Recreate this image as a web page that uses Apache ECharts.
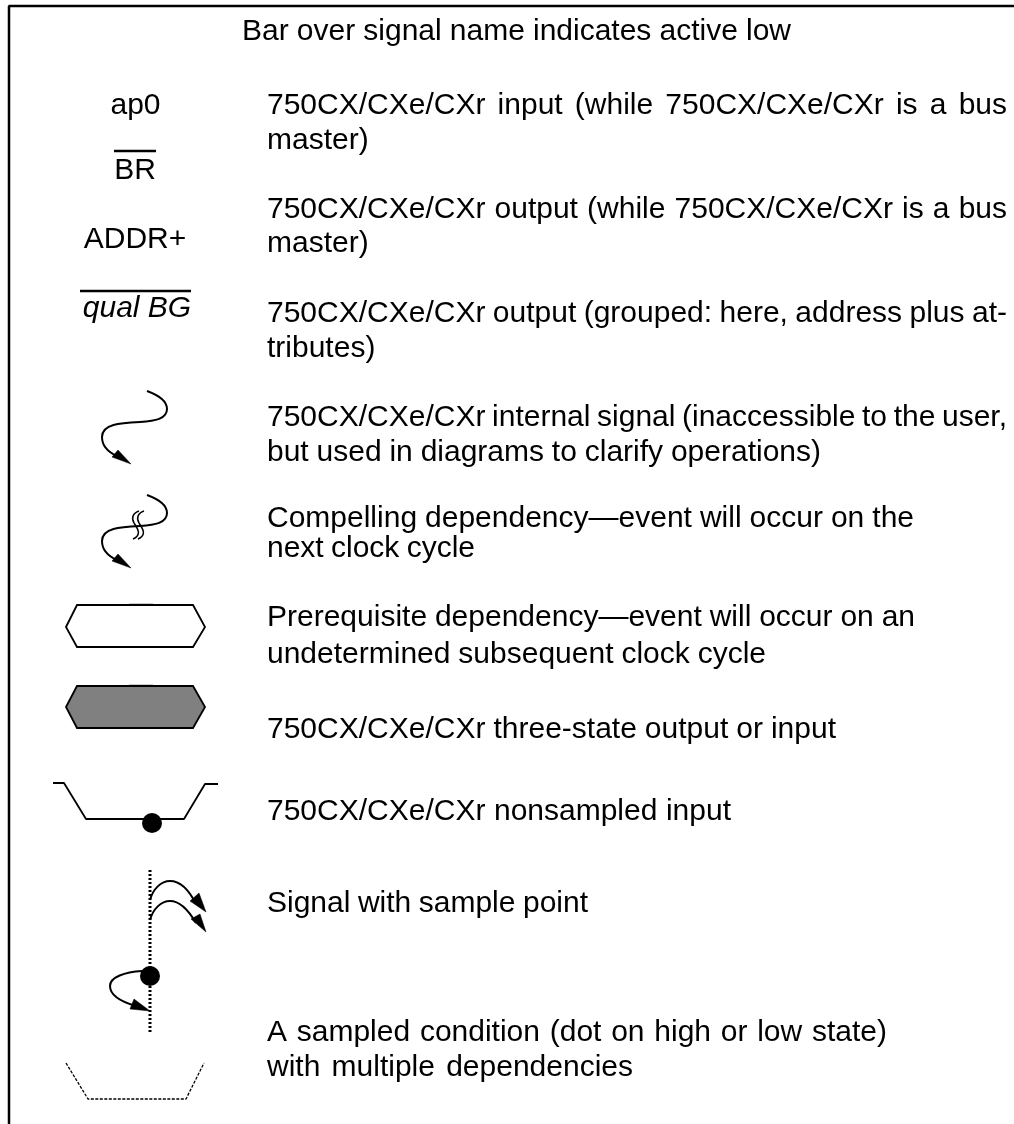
<!DOCTYPE html>
<html><head><meta charset="utf-8">
<style>html,body{margin:0;padding:0;background:#fff}#c{width:1014px;height:1124px}</style>
<script src="https://cdn.jsdelivr.net/npm/echarts@6/dist/echarts.min.js"></script>
</head><body><div id="c"></div>
<script>
var FONT_FAMILY = '"Liberation Sans", Arial, sans-serif';
var FONT_SIZE = 30;
// [text, left x, middle y, justified right x or null]
var descriptionLines = [
 ['Bar over signal name indicates active low',242,32,791],
 ['750CX/CXe/CXr input (while 750CX/CXe/CXr is a bus',267,106,1007],
 ['master)',267,141,366],
 ['750CX/CXe/CXr output (while 750CX/CXe/CXr is a bus',267,210,1007],
 ['master)',267,244,366],
 ['750CX/CXe/CXr output (grouped: here, address plus at-',267,314,1007],
 ['tributes)',267,349,372],
 ['750CX/CXe/CXr internal signal (inaccessible to the user,',267,418,1007],
 ['but used in diagrams to clarify operations)',267,453,821],
 ['Compelling dependency\u2014event will occur on the',267,519,914],
 ['next clock cycle',267,549,475],
 ['Prerequisite dependency\u2014event will occur on an',267,618,915],
 ['undetermined subsequent clock cycle',267,655,766],
 ['750CX/CXe/CXr three-state output or input',267,730,836],
 ['750CX/CXe/CXr nonsampled input',267,812,731],
 ['Signal with sample point',267,904,588],
 ['A sampled condition (dot on high or low state)',267,1033,887],
 ['with multiple dependencies',267,1068,633]
];
// [text, centre x, middle y, italic]
var signalNames = [
 ['ap0',135.5,105.5,false],['BR',135,171,false],['ADDR+',135,240,false],['qual BG',137,309,true]
];
var framePath = [[9,1124],[9,6],[1014,6]];
var overbars = [[[114,151],[156,151]],[[80,291],[191,291]]];
var hexWhite = [[66,627],[77,605],[193,605],[205,627],[193,647],[77,647]];
var hexGrey = [[66,707],[77,686],[193,686],[205,707],[193,728],[77,728]];
var hexTopTicks = [[[129,604.5],[153,604.5]],[[129,685.5],[153,685.5]]];
var trough = [[53,783],[64,783],[86,819],[184,819],[205,784],[218,784]];
var sampleLine = [[150,870],[150,1033]];
var dashedTrough = [[66,1063],[88,1099],[186,1099],[204,1063]];
var dots = [[152,823],[150,976]];
// Bezier chains: first point then triples of control, control, end
var curves = [
 [[147,391],[158,395],[167,401],[167,409],[167,419],[155,421],[140,422],[120,423],[102,424],[102,437],[102,446],[108,452],[117,456]],
 [[147,495],[158,499],[167,505],[167,513],[167,523],[155,525],[140,526],[120,527],[102,528],[102,541],[102,550],[108,556],[117,560]],
 [[150,900],[153,889],[161,881],[170,881],[182,881],[190,892],[196,904]],
 [[150,920],[153,909],[161,901],[170,901],[181,901],[189,911],[196,923]],
 [[142,971],[125,972],[110,977],[110,986],[110,996],[122,1002],[136,1006]]
];
var squiggles = [
 [[139,511],[133,513],[131,518],[134,523],[138,529],[142,535],[133,539]],
 [[144,511],[138,513],[136,518],[139,523],[143,529],[147,535],[138,539]]
];
var arrowHeads = [
 [[131,464],[112,457],[118,450]],
 [[131,568],[112,561],[118,554]],
 [[206,912],[190,901],[199,893]],
 [[206,932],[191,919],[200,914]],
 [[150,1011],[130,1009],[134,999]]
];

var measureCtx = document.createElement('canvas').getContext('2d');
function textElements(api, line) {
  var font = FONT_SIZE + 'px ' + FONT_FAMILY;
  measureCtx.font = font;
  var p = api.coord([line[1], line[2]]);
  var mk = function (t, x) {
    return { type:'text', style:{ text:t, x:x, y:p[1], font:font, fill:'#000', verticalAlign:'middle', align:'left' } };
  };
  if (line[3] == null) return [mk(line[0], p[0])];
  var words = line[0].split(' ');
  if (words.length < 2) return [mk(line[0], p[0])];
  var total = words.reduce(function (s, w) { return s + measureCtx.measureText(w).width; }, 0);
  var right = api.coord([line[3], line[2]])[0];
  var gap = (right - p[0] - total) / (words.length - 1);
  var x = p[0], out = [];
  words.forEach(function (w) { out.push(mk(w, x)); x += measureCtx.measureText(w).width + gap; });
  return out;
}
function polyline(name, pts, width, dash) {
  return { name:name, type:'line', data:pts, symbol:'none', silent:true, animation:false,
    lineStyle:{ color:'#000', width:width, type:dash||'solid', cap:'butt' } };
}
function polygonSeries(name, pts, fill, stroke, lw) {
  return { name:name, type:'custom', data:[0], silent:true, animation:false, clip:false,
    renderItem:function (params, api) {
      return { type:'polygon', shape:{ points:pts.map(function (q) { return api.coord(q); }) },
        style:{ fill:fill, stroke:stroke, lineWidth:lw, lineJoin:'miter' } };
    } };
}
function bezierSeries(name, list, lw) {
  return { name:name, type:'custom', data:list.map(function (_, i) { return i; }), silent:true, animation:false,
    renderItem:function (params, api) {
      var c = list[params.dataIndex].map(function (q) { return api.coord(q); });
      var kids = [];
      for (var i = 1; i + 2 < c.length; i += 3) {
        kids.push({ type:'bezierCurve',
          shape:{ x1:c[i-1][0], y1:c[i-1][1], cpx1:c[i][0], cpy1:c[i][1], cpx2:c[i+1][0], cpy2:c[i+1][1], x2:c[i+2][0], y2:c[i+2][1] },
          style:{ fill:null, stroke:'#000', lineWidth:lw } });
      }
      return { type:'group', children:kids };
    } };
}
var series = [
  polyline('frame', framePath, 2.5),
  polyline('overbar1', overbars[0], 2.5),
  polyline('overbar2', overbars[1], 2.5),
  polygonSeries('hexWhite', hexWhite, '#fff', '#000', 1.8),
  polygonSeries('hexGrey', hexGrey, '#808080', '#000', 1.8),
  polyline('hexTick1', hexTopTicks[0], 1.4),
  polyline('hexTick2', hexTopTicks[1], 1.4),
  polyline('trough', trough, 1.8),
  polyline('sample', sampleLine, 3, [2,2]),
  polyline('dashedTrough', dashedTrough, 1.3, [3,1.5]),
  bezierSeries('curves', curves, 2),
  bezierSeries('squiggles', squiggles, 1.5)
];
arrowHeads.forEach(function (h, i) { series.push(polygonSeries('head'+i, h, '#000', '#000', 0.5)); });
series.push({ name:'dots', type:'scatter', data:dots, symbol:'circle', symbolSize:20, silent:true, animation:false,
  itemStyle:{ color:'#000', opacity:1 } });
series.push({ name:'descriptions', type:'custom', data:descriptionLines.map(function (l) { return [l[1], l[2]]; }),
  silent:true, animation:false,
  renderItem:function (params, api) {
    return { type:'group', children:textElements(api, descriptionLines[params.dataIndex]) };
  } });
series.push({ name:'signals', type:'custom', data:signalNames.map(function (l) { return [l[1], l[2]]; }),
  silent:true, animation:false,
  renderItem:function (params, api) {
    var l = signalNames[params.dataIndex], p = api.coord([l[1], l[2]]);
    return { type:'text', style:{ text:l[0], x:p[0], y:p[1], align:'center', verticalAlign:'middle', fill:'#000',
      font:(l[3]?'italic ':'') + FONT_SIZE + 'px ' + FONT_FAMILY } };
  } });
var chart = echarts.init(document.getElementById('c'), null, { renderer:'canvas' });
chart.setOption({
  animation:false, backgroundColor:'#fff',
  grid:{ left:0, right:0, top:0, bottom:0 },
  xAxis:{ type:'value', min:0, max:1014, show:false },
  yAxis:{ type:'value', min:0, max:1124, inverse:true, show:false },
  series:series
});
</script></body></html>
